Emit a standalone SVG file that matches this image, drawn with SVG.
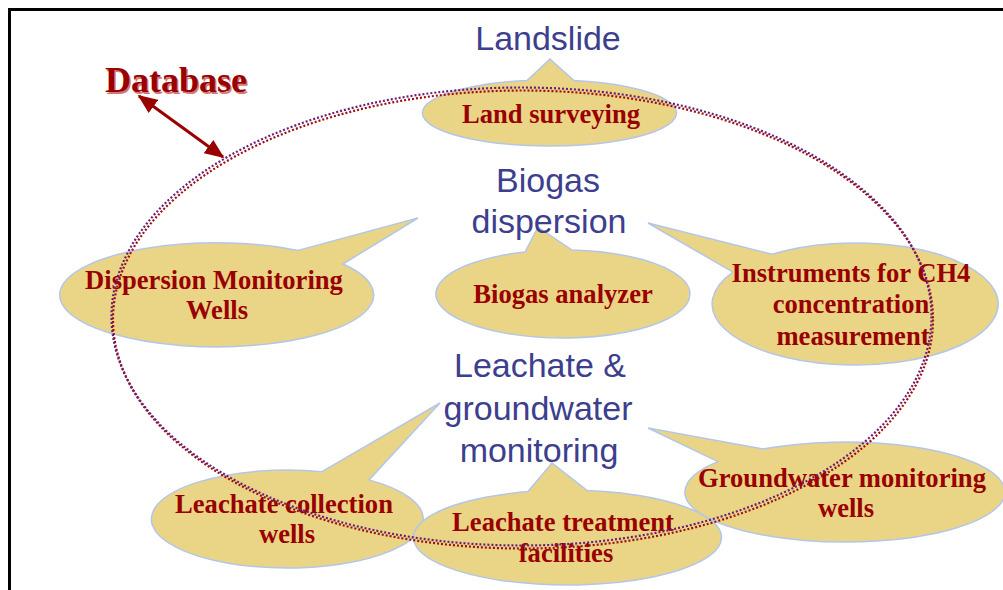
<svg xmlns="http://www.w3.org/2000/svg" width="1003" height="590" viewBox="0 0 1003 590">
<style>
.co{fill:#ead586;stroke:#b4c6e8;stroke-width:1.5}
.ct{font-family:"Liberation Serif","Times New Roman",serif;font-weight:bold;font-size:26.6px;fill:#990000;text-anchor:middle}
.bt{font-family:"Liberation Sans",Arial,sans-serif;font-size:34px;fill:#3d3f8e;text-anchor:middle}
.db{font-family:"Liberation Serif","Times New Roman",serif;font-weight:bold;font-size:36px;text-anchor:start}
.dot{fill:none;stroke-width:2.2;stroke-dasharray:2 2}
</style>
<defs>
<marker id="ah" viewBox="0 0 12 10" refX="11" refY="5" markerWidth="6.5" markerHeight="5.4" orient="auto-start-reverse" markerUnits="strokeWidth">
<path d="M0,0 L12,5 L0,10 Z" fill="#990000"/>
</marker>
</defs>
<rect width="1003" height="590" fill="#ffffff"/>
<path d="M9.5,590 V9.5 H1003" fill="none" stroke="#000000" stroke-width="3"/>

<g id="land-surveying">
<path class="co" d="M527,80.5 L550,59 L574,80.6 A127 33 0 1 1 527,80.5 Z"/>
<text class="ct" x="551" y="123">Land surveying</text>
</g>
<g id="biogas-analyzer">
<path class="co" d="M525,252 L538,227 L572,250.1 A127 44 0 1 1 525,252 Z"/>
<text class="ct" x="563" y="303">Biogas analyzer</text>
</g>
<g id="dispersion-wells">
<path class="co" d="M298,250.4 L418,218 L343,264 A157 52 0 1 1 298,250.4 Z"/>
<text class="ct" x="214" y="289">Dispersion Monitoring</text>
<text class="ct" x="217" y="319">Wells</text>
</g>
<g id="ch4-instruments">
<path class="co" d="M733,272.2 L648,223 L772,254.3 A143 61 0 1 1 733,272.2 Z"/>
<text class="ct" x="851" y="282">Instruments for CH4</text>
<text class="ct" x="851" y="313">concentration</text>
<text class="ct" x="853" y="345">measurement</text>
</g>
<g id="leachate-collection">
<path class="co" d="M322,471.7 L440,403 L369,479.9 A136 49 0 1 1 322,471.7 Z"/>
<text class="ct" x="284" y="513">Leachate collection</text>
<text class="ct" x="287" y="543">wells</text>
</g>
<g id="leachate-treatment">
<path class="co" d="M528,491.6 L552,463 L587,490.4 A154 47.5 0 1 1 528,491.6 Z"/>
<text class="ct" x="563" y="531">Leachate treatment</text>
<text class="ct" x="566" y="562">facilities</text>
</g>
<g id="groundwater-wells">
<path class="co" d="M718,461.6 L648,428 L763,449.1 A160 50 0 1 1 718,461.6 Z"/>
<text class="ct" x="842" y="487">Groundwater monitoring</text>
<text class="ct" x="846" y="517">wells</text>
</g>

<g id="topics">
<text class="bt" x="548" y="50">Landslide</text>
<text class="bt" x="548" y="192">Biogas</text>
<text class="bt" x="549" y="233">dispersion</text>
<text class="bt" x="540" y="377">Leachate &amp;</text>
<text class="bt" x="538" y="420">groundwater</text>
<text class="bt" x="539" y="462">monitoring</text>
</g>

<g id="database">
<text class="db" x="106.5" y="93.5" fill="#c04040" opacity="0.7">Database</text>
<text class="db" x="105" y="92" fill="#990000">Database</text>
</g>

<g id="connectors">
<ellipse class="dot" cx="523" cy="319.5" rx="410" ry="229" stroke="#a00e10"/>
<ellipse class="dot" cx="521.5" cy="316.5" rx="410" ry="229" stroke="#6a1e78"/>
<line x1="139" y1="96" x2="223" y2="157" stroke="#990000" stroke-width="3" marker-start="url(#ah)" marker-end="url(#ah)"/>
</g>
</svg>
